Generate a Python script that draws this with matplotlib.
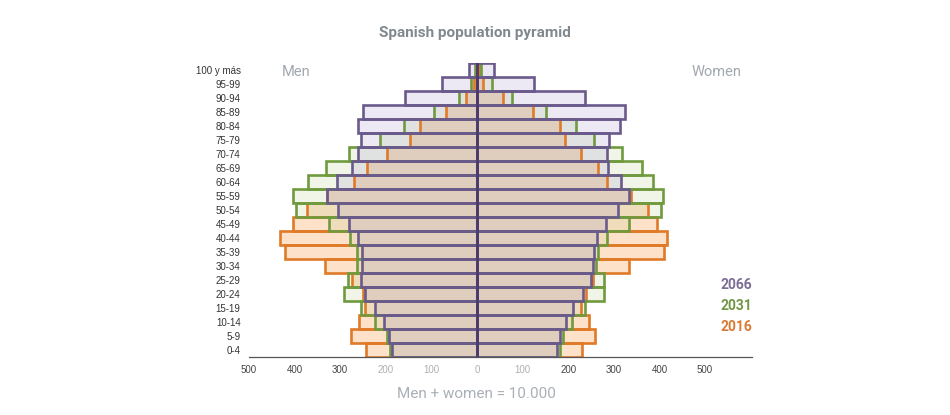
import matplotlib
matplotlib.use("Agg")
import matplotlib.pyplot as plt
from matplotlib.ticker import FuncFormatter
import numpy as np

plt.rcParams['font.family'] = ['Roboto', 'DejaVu Sans']

# datos (por cada 10.000 habitantes)
ages = ['0-4', '5-9', '10-14', '15-19', '20-24', '25-29', '30-34', '35-39', '40-44',
        '45-49', '50-54', '55-59', '60-64', '65-69', '70-74', '75-79', '80-84',
        '85-89', '90-94', '95-99', '100 y más']
men_2016 = [243, 276, 259, 246, 251, 275, 333, 420, 431, 403, 372, 328, 270, 242, 197, 148, 124, 68, 24, 7, 3]
men_2031 = [191, 198, 224, 254, 292, 282, 264, 264, 279, 325, 397, 403, 370, 332, 280, 213, 160, 94, 39, 14, 5]
men_2066 = [186, 192, 204, 224, 245, 254, 253, 253, 260, 280, 304, 330, 306, 275, 262, 254, 260, 251, 159, 76, 18]
women_2016 = [230, 259, 246, 227, 240, 255, 334, 409, 416, 395, 374, 337, 284, 265, 228, 192, 183, 122, 56, 14, 5]
women_2031 = [181, 188, 208, 237, 279, 279, 262, 266, 284, 333, 403, 407, 385, 361, 319, 257, 216, 151, 77, 33, 8]
women_2066 = [176, 182, 195, 211, 233, 249, 254, 257, 264, 282, 310, 334, 315, 288, 284, 290, 314, 325, 237, 124, 37]
years = ['2016', '2031', '2066']
x_ticks = [-500, -400, -300, -200, -100, 0, 100, 200, 300, 400, 500]

# estilos
edge_colors = {'2016': '#e07a28', '2031': '#6f9a3e', '2066': '#6a5a8c'}
fill_colors = {'2016': ('#fde1c9', 1.0), '2031': ('#a8c878', 0.17), '2066': ('#a494c8', 0.2)}
label_colors = {'2016': '#d97b34', '2031': '#739647', '2066': '#7c6d97'}

series = {
    '2016': (men_2016, women_2016),
    '2031': (men_2031, women_2031),
    '2066': (men_2066, women_2066),
}

fig = plt.figure(figsize=(9.5, 4.15), dpi=100)
ax = fig.add_axes((249 / 950, 1 - 357 / 415, 503 / 950, 294 / 415))

y = np.arange(len(ages))

# rellenos
for yr in years:
    men, women = series[yr]
    col, a = fill_colors[yr]
    ax.barh(y, -np.array(men), height=1, color=col, alpha=a, linewidth=0, zorder=1)
    ax.barh(y, women, height=1, color=col, alpha=a, linewidth=0, zorder=1)

# bordes
for i, yr in enumerate(years):
    men, women = series[yr]
    for vals in (-np.array(men), np.array(women)):
        ax.barh(y, vals, height=1, fill=False, edgecolor=edge_colors[yr],
                linewidth=1.9, zorder=2 + i)

ax.axvline(0, color='#4a3b6b', linewidth=2, zorder=6)

ax.set_xlim(-500, 603)
ax.set_ylim(-0.5, len(ages) - 0.5)
ax.set_yticks(y)
ax.set_yticklabels(ages, fontsize=7, color='#333333', family='Liberation Sans')
ax.set_xticks(x_ticks)
ax.xaxis.set_major_formatter(FuncFormatter(lambda v, p: f"{abs(int(v))}"))
ax.tick_params(axis='both', length=0)
ax.tick_params(axis='y', pad=6)
ax.tick_params(axis='x', pad=6, labelsize=7, labelcolor='#444444')
for lab, v in zip(ax.get_xticklabels(), x_ticks):
    lab.set_family('Liberation Sans')
    if -200 <= v <= 100:
        lab.set_color('#b0b0b0')

for s in ('top', 'right', 'left'):
    ax.spines[s].set_visible(False)
ax.spines['bottom'].set_color('#555555')
ax.spines['bottom'].set_linewidth(0.9)

# textos
fig.text(475 / 950, 1 - 33 / 415, 'Spanish population pyramid', ha='center', va='center',
         fontsize=11, fontweight='bold', color='#7f898e')
fig.text(296 / 950, 1 - 72 / 415, 'Men', ha='center', va='center',
         fontsize=10.5, color='#a2a7ae')
fig.text(717 / 950, 1 - 72 / 415, 'Women', ha='center', va='center',
         fontsize=10.5, color='#a2a7ae')
fig.text(476 / 950, 1 - 394 / 415, 'Men + women = 10.000', ha='center', va='center',
         fontsize=11, color='#a9b0b7')

for yr, ypx in zip(['2066', '2031', '2016'], [285, 306, 327]):
    fig.text(752 / 950, 1 - ypx / 415, yr, ha='right', va='center',
             fontsize=10, fontweight='bold', color=label_colors[yr])

fig.savefig('out.png', dpi=100, facecolor='white')
